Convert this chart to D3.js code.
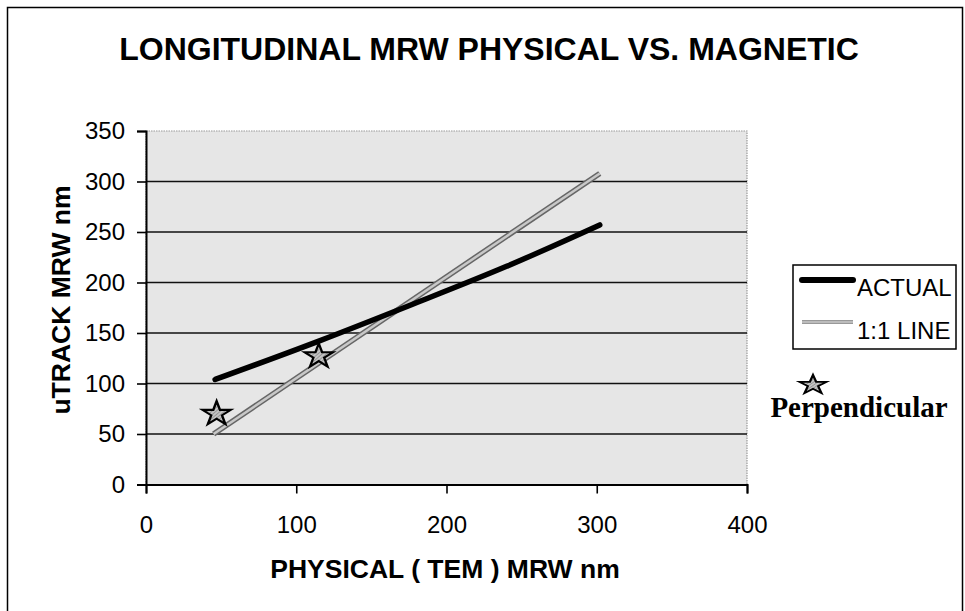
<!DOCTYPE html>
<html><head><meta charset="utf-8">
<script src="https://cdn.jsdelivr.net/npm/d3@7"></script>
<style>body{margin:0;background:#fff}svg{display:block}</style>
</head><body>
<script>
const title = "LONGITUDINAL MRW PHYSICAL VS. MAGNETIC";
const xTitle = "PHYSICAL ( TEM ) MRW nm";
const yTitle = "uTRACK MRW nm";
const xTicks = [0, 100, 200, 300, 400];
const yTicks = [0, 50, 100, 150, 200, 250, 300, 350];
const actualX = [46, 115, 175, 240, 302];
const actualY = [104, 142, 177, 216, 257];
const oneToOneX = [45, 302];
const oneToOneY = [50, 308];
const perpX = [47, 115];
const perpY = [70, 127];
const seriesNames = ["ACTUAL", "1:1 LINE", "Perpendicular"];

const W = 965, H = 611;
const svg = d3.select("body").append("svg").attr("width", W).attr("height", H);
const defs = svg.append("defs");
const pat = defs.append("pattern").attr("id","hatch").attr("width",3).attr("height",3)
  .attr("patternUnits","userSpaceOnUse").attr("patternTransform","rotate(45)");
pat.append("rect").attr("width",3).attr("height",3).attr("fill","#c4c4c4");
pat.append("line").attr("x1",0).attr("y1",0).attr("x2",0).attr("y2",3).attr("stroke","#666").attr("stroke-width",1);

// outer frame
svg.append("rect").attr("x",7.5).attr("y",7.5).attr("width",955).attr("height",620)
  .attr("fill","none").attr("stroke","#000").attr("stroke-width",1.5);

const x = d3.scaleLinear().domain([0,400]).range([146,747]);
const y = d3.scaleLinear().domain([0,350]).range([484.5,131]);

// plot area
svg.append("rect").attr("x",x(0)).attr("y",y(350)).attr("width",x(400)-x(0)).attr("height",y(0)-y(350))
  .attr("fill","#e6e6e6").attr("stroke","#999").attr("stroke-width",1.2).attr("stroke-dasharray","1.5,1");

// gridlines
svg.append("g").selectAll("line").data(yTicks.filter(d=>d>0 && d<350)).join("line")
  .attr("x1",x(0)).attr("x2",x(400)).attr("y1",d=>y(d)).attr("y2",d=>y(d))
  .attr("stroke","#111").attr("stroke-width",1.6);

// axes
const fontAxis = "Arial, 'Liberation Sans', sans-serif";
const xAxis = svg.append("g").attr("transform",`translate(0,${y(0)})`)
  .call(d3.axisBottom(x).tickValues(xTicks).tickSize(9).tickPadding(22).tickFormat(d3.format("d")));
const yAxis = svg.append("g").attr("transform",`translate(${x(0)},0)`)
  .call(d3.axisLeft(y).tickValues(yTicks).tickSize(9).tickPadding(12).tickFormat(d3.format("d")));
[xAxis,yAxis].forEach(g=>{
  g.select(".domain").attr("stroke","#000").attr("stroke-width",2);
  g.selectAll(".tick line").attr("stroke","#000").attr("stroke-width",1.6);
  g.selectAll("text").attr("font-family",fontAxis).attr("font-size",24).attr("fill","#000");
});

// 1:1 line
const oneData = oneToOneX.map((d,i)=>[d,oneToOneY[i]]);
const actData = actualX.map((d,i)=>[d,actualY[i]]);
const line = d3.line().x(d=>x(d[0])).y(d=>y(d[1]));
svg.append("path").datum(oneData).attr("d",line).attr("fill","none").attr("stroke","#666").attr("stroke-width",5.5);
svg.append("path").datum(oneData).attr("d",line).attr("fill","none").attr("stroke","#c8c8c8").attr("stroke-width",2.5);
// actual line
svg.append("path").datum(actData).attr("d",d3.line().x(d=>x(d[0])).y(d=>y(d[1])).curve(d3.curveMonotoneX))
  .attr("fill","none").attr("stroke","#000").attr("stroke-width",5.5).attr("stroke-linecap","round").attr("stroke-linejoin","round");

// stars
const star = d3.symbol().type(d3.symbolStar).size(250);
svg.append("g").selectAll("path").data(perpX.map((d,i)=>[d,perpY[i]])).join("path")
  .attr("d",star).attr("transform",d=>`translate(${x(d[0])},${y(d[1])}) scale(1,0.85)`)
  .attr("fill","url(#hatch)").attr("stroke","#000").attr("stroke-width",2.4);

// titles
svg.append("text").attr("x",489).attr("y",60).attr("text-anchor","middle")
  .attr("font-family",fontAxis).attr("font-weight","bold").attr("font-size",32).text(title);
svg.append("text").attr("x",445).attr("y",578).attr("text-anchor","middle")
  .attr("font-family",fontAxis).attr("font-weight","bold").attr("font-size",26.5).text(xTitle);
svg.append("text").attr("transform","translate(70,300) rotate(-90)").attr("text-anchor","middle")
  .attr("font-family",fontAxis).attr("font-weight","bold").attr("font-size",26.5).text(yTitle);

// legend
const lg = svg.append("g");
lg.append("rect").attr("x",793).attr("y",265).attr("width",163).attr("height",84)
  .attr("fill","#fff").attr("stroke","#000").attr("stroke-width",1.5);
lg.append("line").attr("x1",802).attr("x2",853).attr("y1",280).attr("y2",280)
  .attr("stroke","#000").attr("stroke-width",6).attr("stroke-linecap","round");
lg.append("line").attr("x1",802).attr("x2",853).attr("y1",322).attr("y2",322)
  .attr("stroke","#999").attr("stroke-width",4);
lg.append("line").attr("x1",802).attr("x2",853).attr("y1",322).attr("y2",322)
  .attr("stroke","#c8c8c8").attr("stroke-width",1.5);
lg.append("text").attr("x",857).attr("y",296).attr("font-family",fontAxis).attr("font-size",24).text(seriesNames[0]);
lg.append("text").attr("x",857).attr("y",339).attr("font-family",fontAxis).attr("font-size",24).text(seriesNames[1]);
lg.append("path").attr("d",d3.symbol().type(d3.symbolStar).size(230)).attr("transform","translate(813,385) scale(1,0.7)")
  .attr("fill","url(#hatch)").attr("stroke","#000").attr("stroke-width",2.4);
lg.append("text").attr("x",859).attr("y",417).attr("text-anchor","middle")
  .attr("font-family","'Liberation Serif','Times New Roman',serif").attr("font-weight","bold").attr("font-size",29).text(seriesNames[2]);
</script>
</body></html>
